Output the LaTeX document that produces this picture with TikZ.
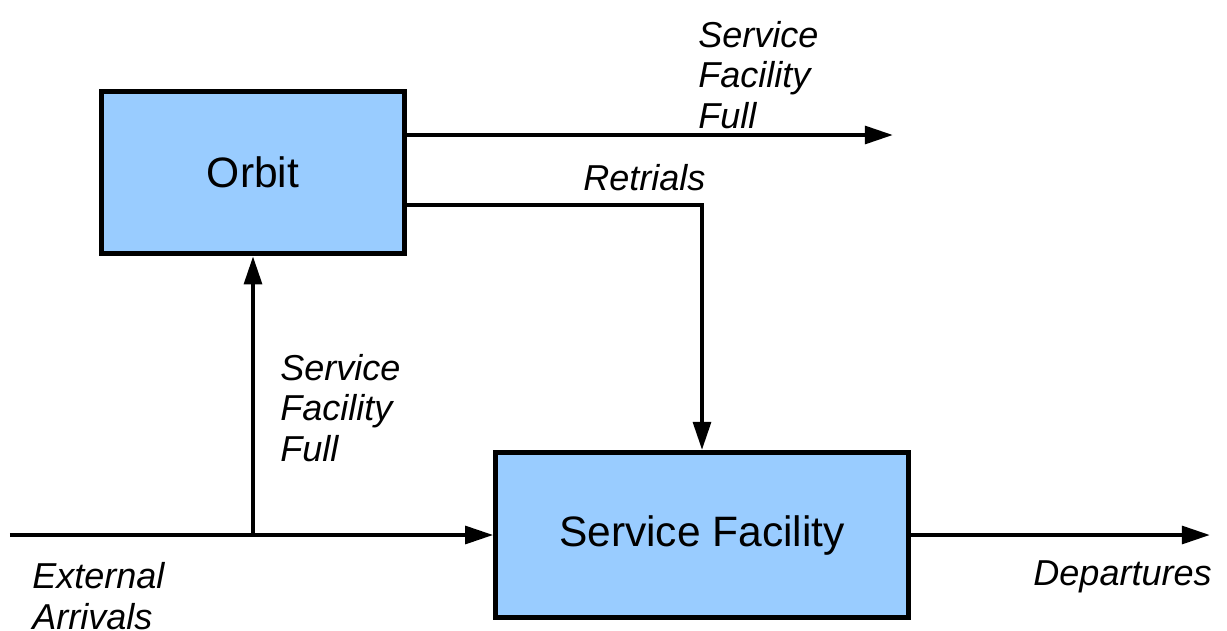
\documentclass[tikz,border=0pt]{standalone}
\usepackage{fontspec}
\setmainfont{Liberation Sans}
\usetikzlibrary{arrows.meta}
\definecolor{boxblue}{HTML}{99CCFF}
\tikzset{
  block/.style={draw, line width=2.8pt, fill=boxblue, font=\fontsize{24.2}{28}\selectfont},
  flow/.style={line width=2.4pt, -{Triangle[length=16pt,width=10pt]}},
  lbl/.style={font=\fontsize{20.5}{23}\selectfont\itshape, align=left, inner sep=0pt},
}
\begin{document}
\begin{tikzpicture}

\useasboundingbox (0,0) rectangle (24.54,12.6);

\node[block, minimum width=6.05cm, minimum height=3.25cm] (orbit) at (5.06,9.15) {Orbit};
\node[block, minimum width=8.25cm, minimum height=3.3cm] (sf) at (14.04,1.9) {Service Facility};

\coordinate (ext) at (0.2,1.9);
\coordinate (dep) at (24.2,1.9);
\coordinate (fullend) at (17.86,9.9);
\coordinate (retry) at (14.1,8.5);

\draw[flow] (ext) -- (sf.west);
\draw[flow] (orbit.south |- ext) -- (orbit.south);
\draw[flow] (orbit.east |- fullend) -- (fullend);
\draw[flow] (orbit.east |- retry) -- (sf.north |- retry) -- (sf.north);
\draw[flow] (sf.east) -- (dep);

\node[lbl, anchor=west] (fulltop) at (13.96,11.1) {Service\\Facility\\Full};
\node[lbl, anchor=west] (retrials) at (11.66,9.04) {Retrials};
\node[lbl, anchor=west] (fullleft) at (5.6,4.44) {Service\\Facility\\Full};
\node[lbl, anchor=west] (arrivals) at (0.64,0.68) {External\\Arrivals};
\node[lbl, anchor=east] (departures) at (24.24,1.06) {Departures};

\end{tikzpicture}
\end{document}
